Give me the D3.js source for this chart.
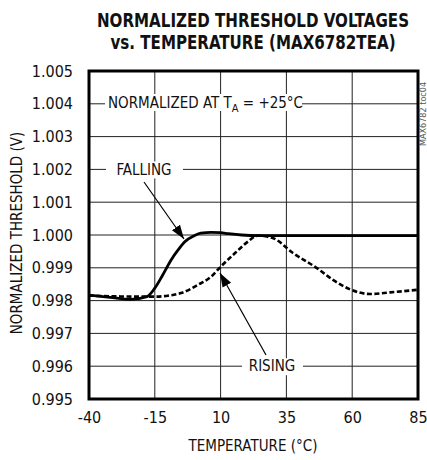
<!DOCTYPE html>
<html><head><meta charset="utf-8">
<script src="https://cdn.jsdelivr.net/npm/d3@7"></script>
<style>
body{margin:0;background:#fff;}
svg text{font-family:"Liberation Sans Narrow","DejaVu Sans Condensed","Liberation Sans",Arial,sans-serif;fill:#111;}
</style></head><body>
<svg id="c" width="427" height="460"></svg>
<script>
const titleLines = ["NORMALIZED THRESHOLD VOLTAGES", "vs. TEMPERATURE (MAX6782TEA)"];
const xTicks = [-40, -15, 10, 35, 60, 85];
const yTicks = [0.995, 0.996, 0.997, 0.998, 0.999, 1.000, 1.001, 1.002, 1.003, 1.004, 1.005];
const fallingT = [-40, -32, -24, -18, -15, -12, -8.8, -6, -3.5, 0, 2.5, 6.4, 10, 13, 18, 24, 35, 50, 60, 70, 85];
const fallingV = [0.99817, 0.99810, 0.99804, 0.99812, 0.99838, 0.99878, 0.99924, 0.99956, 0.99980, 0.99998, 1.00006, 1.00008, 1.00007, 1.00004, 1.00000, 0.99998, 0.99998, 0.99998, 0.99998, 0.99998, 0.99998];
const risingT = [-40, -30, -20, -15, -10, -5, 1.4, 6.4, 10, 15.5, 20.4, 24, 30, 37.5, 46.6, 52.7, 59, 66.8, 74.4, 85];
const risingV = [0.99815, 0.99813, 0.99812, 0.99812, 0.99815, 0.99823, 0.99848, 0.99873, 0.99903, 0.99945, 0.99980, 0.99998, 0.99990, 0.99945, 0.99899, 0.99863, 0.99835, 0.99820, 0.99825, 0.99833];

const svg = d3.select("#c");
const L = 89, R = 418, T = 71, B = 399;
const x = d3.scaleLinear().domain([-40, 85]).range([L, R]);
const y = d3.scaleLinear().domain([0.995, 1.005]).range([B, T]);

// title (bold, condensed look)
svg.selectAll("text.title").data(titleLines).enter().append("text")
  .attr("class", "title")
  .attr("transform", (d, i) => `translate(253,${27 + i * 22}) scale(0.84,1)`)
  .attr("text-anchor", "middle").style("font-size", "20px").style("font-weight", "bold")
  .text(d => d);

// grid
const g = svg.append("g");
g.selectAll("line.vx").data(xTicks.slice(1, -1)).enter().append("line")
  .attr("x1", d => x(d)).attr("x2", d => x(d)).attr("y1", T).attr("y2", B)
  .attr("stroke", "#222").attr("stroke-width", 1);
g.selectAll("line.hy").data(yTicks.slice(1, -1)).enter().append("line")
  .attr("x1", L).attr("x2", R).attr("y1", d => y(d)).attr("y2", d => y(d))
  .attr("stroke", "#222").attr("stroke-width", 1);

// axes (labels only)
const xAxis = d3.axisBottom(x).tickValues(xTicks).tickSize(0).tickPadding(13).tickFormat(d => String(d));
const xa = svg.append("g").attr("transform", `translate(0,${B})`).call(xAxis);
xa.select(".domain").remove();
xa.selectAll("text").style("font-size", "16px").attr("fill", "#111");
const yAxis = d3.axisLeft(y).tickValues(yTicks).tickSize(0).tickPadding(16).tickFormat(d3.format(".3f"));
const ya = svg.append("g").attr("transform", `translate(${L},0)`).call(yAxis);
ya.select(".domain").remove();
ya.selectAll("text").style("font-size", "16px").attr("fill", "#111");

// axis titles
svg.append("text").attr("x", 253).attr("y", 451).attr("text-anchor", "middle")
  .style("font-size", "15px").text("TEMPERATURE (°C)");
svg.append("text").attr("transform", "translate(22,233) rotate(-90)").attr("text-anchor", "middle")
  .style("font-size", "15px").text("NORMALIZED THRESHOLD (V)");

// annotation boxes (white backgrounds)
svg.append("rect").attr("x", 105).attr("y", 94).attr("width", 197).attr("height", 17).attr("fill", "#fff");
const ann = svg.append("text").attr("x", 108).attr("y", 103).attr("dy", "0.35em").style("font-size", "15px");
ann.append("tspan").text("NORMALIZED AT T");
ann.append("tspan").attr("dy", 4).style("font-size", "11px").text("A");
ann.append("tspan").attr("dy", -4).text(" = +25°C");

svg.append("rect").attr("x", 106).attr("y", y(1.002) - 8).attr("width", 77).attr("height", 17).attr("fill", "#fff");
svg.append("text").attr("x", 144).attr("y", y(1.002)).attr("dy", "0.35em").attr("text-anchor", "middle")
  .style("font-size", "15px").text("FALLING");
svg.append("rect").attr("x", 242).attr("y", y(0.996) - 8).attr("width", 61).attr("height", 17).attr("fill", "#fff");
svg.append("text").attr("x", 272).attr("y", y(0.996)).attr("dy", "0.35em").attr("text-anchor", "middle")
  .style("font-size", "15px").text("RISING");

// lines
const lineGen = d3.line().x(d => x(d[0])).y(d => y(d[1])).curve(d3.curveMonotoneX);
svg.append("path").datum(risingT.map((t, i) => [t, risingV[i]])).attr("d", lineGen)
  .attr("fill", "none").attr("stroke", "#000").attr("stroke-width", 2.6).attr("stroke-dasharray", "5,2.5");
svg.append("path").datum(fallingT.map((t, i) => [t, fallingV[i]])).attr("d", lineGen)
  .attr("fill", "none").attr("stroke", "#000").attr("stroke-width", 2.8);

// arrows
const defs = svg.append("defs");
defs.append("marker").attr("id", "ah").attr("viewBox", "0 0 10 10").attr("refX", 10).attr("refY", 5)
  .attr("markerWidth", 14).attr("markerHeight", 14).attr("markerUnits", "userSpaceOnUse").attr("orient", "auto")
  .append("path").attr("d", "M0,1.5 L10,5 L0,8.5 Z").attr("fill", "#000");
svg.append("line").attr("x1", 144).attr("y1", 182).attr("x2", 184).attr("y2", 239)
  .attr("stroke", "#000").attr("stroke-width", 1.2).attr("marker-end", "url(#ah)");
svg.append("line").attr("x1", 266).attr("y1", 355).attr("x2", 220).attr("y2", 273)
  .attr("stroke", "#000").attr("stroke-width", 1.2).attr("marker-end", "url(#ah)");

// border
svg.append("rect").attr("x", L).attr("y", T).attr("width", R - L).attr("height", B - T)
  .attr("fill", "none").attr("stroke", "#000").attr("stroke-width", 3);

// watermark
svg.append("text").attr("transform", "translate(426,146) rotate(-90)").style("font-size", "9px")
  .style("fill", "#555").text("MAX6782 toc04");
</script></body></html>
